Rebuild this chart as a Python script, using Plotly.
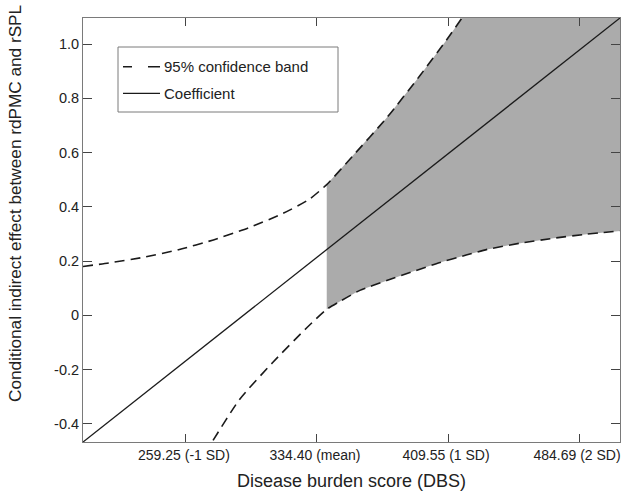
import plotly.graph_objects as go

# ---- data ----
tick_vals = [259.25, 334.40, 409.55, 484.69]
tick_text = ["259.25 (-1 SD)", "334.40 (mean)", "409.55 (1 SD)", "484.69 (2 SD)"]
y_tick_vals = [-0.4, -0.2, 0, 0.2, 0.4, 0.6, 0.8, 1.0]
y_tick_text = ["-0.4", "-0.2", "0", "0.2", "0.4", "0.6", "0.8", "1.0"]

coef_x = [200.2, 508.2]
coef_y = [-0.467, 1.096]

upper_x = [200.2, 215, 235, 255, 275, 295, 315, 330, 340, 355, 374.4, 393.5, 408.8, 418.3, 440, 470, 508.2]
upper_y = [0.180, 0.193, 0.214, 0.242, 0.278, 0.322, 0.376, 0.428, 0.482, 0.588, 0.728, 0.884, 1.016, 1.103, 1.31, 1.61, 1.99]

lower_x = [270, 274.2, 290, 309, 328.7, 340, 348, 359, 374.4, 389.7, 404, 420, 432, 451, 470, 489, 508.2]
lower_y = [-0.51, -0.467, -0.31, -0.174, -0.045, 0.022, 0.053, 0.092, 0.128, 0.162, 0.193, 0.222, 0.243, 0.266, 0.284, 0.299, 0.311]

region_start = 340  # start of significance region (shaded)

legend_labels = ["95% confidence band", "Coefficient"]

x_range = [200.2, 508.2]
y_range = [-0.467, 1.096]

# ---- figure ----
FONT = "Liberation Sans, Arial, sans-serif"
INK = "#1a1a1a"
AXIS = "#7a7a7a"
BAND_DASH = "10px,6px"

sx_u = [x for x in upper_x if x >= region_start]
sy_u = [y for x, y in zip(upper_x, upper_y) if x >= region_start]
sx_l = [x for x in lower_x if x >= region_start]
sy_l = [y for x, y in zip(lower_x, lower_y) if x >= region_start]

fig = go.Figure()

fig.add_trace(go.Scatter(
    x=sx_u + sx_l[::-1], y=sy_u + sy_l[::-1],
    mode="lines", fill="toself", fillcolor="#ababab",
    line=dict(width=0, color="#ababab"), showlegend=False, hoverinfo="skip",
))
for bx, by in ((upper_x, upper_y), (lower_x, lower_y)):
    fig.add_trace(go.Scatter(
        x=bx, y=by, mode="lines", name=legend_labels[0], showlegend=False,
        line=dict(color=INK, width=1.6, dash=BAND_DASH, shape="spline", smoothing=0.6),
    ))
fig.add_trace(go.Scatter(
    x=coef_x, y=coef_y, mode="lines", name=legend_labels[1], showlegend=False,
    line=dict(color=INK, width=1.3),
))

# ---- legend box (drawn in paper coordinates) ----
plot_l, plot_t, plot_w, plot_h = 83, 18, 537, 424
def px(xp):
    return (xp - plot_l) / plot_w
def py(yp):
    return (plot_t + plot_h - yp) / plot_h

shapes = [
    dict(type="rect", xref="paper", yref="paper", x0=px(118), x1=px(338), y0=py(112), y1=py(47),
         line=dict(color=AXIS, width=1), fillcolor="white", layer="above"),
    dict(type="line", xref="paper", yref="paper", x0=px(123), x1=px(160), y0=py(66.7), y1=py(66.7),
         line=dict(color=INK, width=1.6, dash="9px,16px,12px"), layer="above"),
    dict(type="line", xref="paper", yref="paper", x0=px(123), x1=px(160), y0=py(93.3), y1=py(93.3),
         line=dict(color=INK, width=1.3), layer="above"),
]
annotations = [
    dict(text=legend_labels[0], xref="paper", yref="paper", x=px(162), y=py(66.7),
         xanchor="left", yanchor="middle", showarrow=False, font=dict(size=15, family=FONT, color="#222")),
    dict(text=legend_labels[1], xref="paper", yref="paper", x=px(162), y=py(93.3),
         xanchor="left", yanchor="middle", showarrow=False, font=dict(size=15, family=FONT, color="#222")),
    dict(text="Disease burden score (DBS)", xref="paper", yref="paper",
         x=0.5, y=py(492), xanchor="center", yanchor="bottom", showarrow=False, borderpad=0,
         font=dict(size=18, family=FONT, color="#222")),
    dict(text="Conditional indirect effect between rdPMC and rSPL", xref="paper", yref="paper",
         x=px(15), y=py(204), xanchor="center", yanchor="middle", showarrow=False,
         textangle=-90, font=dict(size=17.2, family=FONT, color="#222")),
]

fig.update_layout(
    width=621, height=493,
    margin=dict(l=plot_l, r=1, t=plot_t, b=51),
    paper_bgcolor="white", plot_bgcolor="white",
    font=dict(family=FONT, size=14, color="#222"),
    showlegend=False,
    xaxis=dict(
        range=x_range, tickmode="array", tickvals=tick_vals, ticktext=tick_text,
        showgrid=False, zeroline=False, showline=True, linecolor=AXIS, linewidth=1,
        mirror="ticks", ticks="inside", ticklen=8, tickcolor="#444", tickwidth=1,
        ticklabeloverflow="allow", ticklabelshift=-2,
    ),
    yaxis=dict(
        range=y_range, tickmode="array", tickvals=y_tick_vals, ticktext=y_tick_text,
        showgrid=False, zeroline=False, showline=True, linecolor=AXIS, linewidth=1,
        mirror="ticks", ticks="inside", ticklen=9, tickcolor="#444", tickwidth=1,
        tickfont=dict(size=14.5),
    ),
    shapes=shapes,
    annotations=annotations,
)

fig.write_html("out.html", config={"displayModeBar": False},
               post_script="document.body.style.margin='0';")
